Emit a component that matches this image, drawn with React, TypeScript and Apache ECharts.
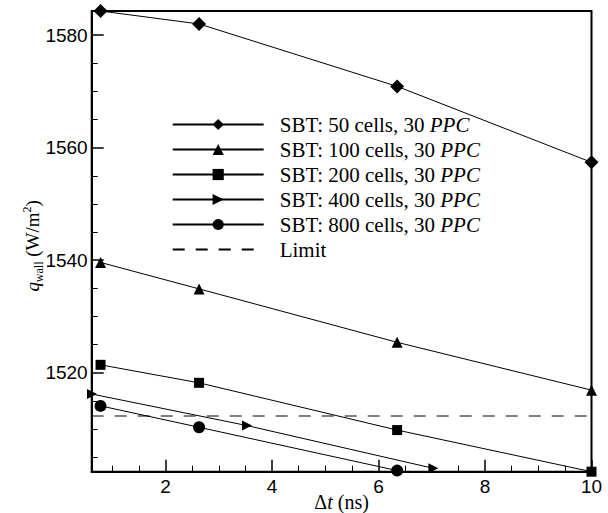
import React, { useEffect, useRef } from "react";
import * as echarts from "echarts";

// ---- data ----
const xMain = [0.78, 2.63, 6.35, 10];
const sbt50 = [1584.3, 1582.0, 1570.9, 1557.4];
const sbt100 = [1539.6, 1534.9, 1525.4, 1516.9];
const sbt200 = [1521.4, 1518.2, 1509.8, 1502.4];
const x400 = [0.62, 3.53, 7.03];
const sbt400 = [1516.2, 1510.6, 1503.0];
const x800 = [0.78, 2.63, 6.35];
const sbt800 = [1514.1, 1510.3, 1502.6];
const limitValue = 1512.3;

const xRange = [0.614, 10];
const yRange = [1502.4, 1584.3];
const xMajor = [2, 4, 6, 8, 10];
const xMinor = [1, 1.5, 2.5, 3, 3.5, 4.5, 5, 5.5, 6.5, 7, 7.5, 8.5, 9, 9.5];
const yMajor = [1520, 1540, 1560, 1580];
const yMinor = [1505, 1510, 1515, 1525, 1530, 1535, 1545, 1550, 1555, 1565, 1570, 1575];

const names = [
  "SBT: 50 cells, 30 PPC",
  "SBT: 100 cells, 30 PPC",
  "SBT: 200 cells, 30 PPC",
  "SBT: 400 cells, 30 PPC",
  "SBT: 800 cells, 30 PPC",
  "Limit",
];

const pair = (xs: number[], ys: number[]) => xs.map((x, i) => [x, ys[i]]);

export default function App() {
  const ref = useRef<HTMLDivElement>(null);
  useEffect(() => {
    if (!ref.current) return;
    const chart = echarts.init(ref.current, null, { renderer: "svg" });
    const serif = "Liberation Serif";
    const sans = "Liberation Sans";
    const lineStyle = { color: "#000", width: 1 };
    const mkSeries = (name: string, data: number[][], symbol: string, size: number, rotate = 0) => ({
      name,
      type: "line",
      data,
      symbol,
      symbolSize: size,
      symbolRotate: rotate,
      showSymbol: true,
      itemStyle: { color: "#000" },
      lineStyle,
      z: 3,
    });
    const baseAxis = (min: number, max: number) => ({
      type: "value",
      min,
      max,
      splitLine: { show: false },
    });
    chart.setOption({
      animation: false,
      backgroundColor: "#fff",
      grid: {
        left: 91.7,
        top: 11,
        right: 16.5,
        bottom: 41.3,
        show: true,
        borderColor: "#000",
        borderWidth: 2,
        containLabel: false,
        outerBoundsMode: "none",
      },
      legend: {
        orient: "vertical",
        left: 171.7,
        top: 114,
        padding: 0,
        itemWidth: 91,
        itemHeight: 14,
        itemGap: 4,
        data: names.map((n) =>
          n === "Limit" ? { name: n, itemStyle: { color: "rgba(0,0,0,0)", opacity: 0 } } : { name: n }
        ),
        formatter: (n: string) => n.replace("PPC", "{i|PPC}"),
        textStyle: {
          fontFamily: serif,
          fontSize: 21,
          lineHeight: 21,
          color: "#000",
          padding: [0, 0, 0, 11],
          rich: {
            i: { fontFamily: serif, fontSize: 21, lineHeight: 21, fontStyle: "italic", color: "#000" },
          },
        },
      },
      xAxis: [
        {
          ...baseAxis(xRange[0], xRange[1]),
          position: "bottom",
          axisLine: { show: true, onZero: false, lineStyle: { color: "#000", width: 2 } },
          axisTick: { show: true, inside: true, length: 12, customValues: xMajor, lineStyle: { color: "#000", width: 1.5 } },
          axisLabel: {
            show: true,
            customValues: xMajor,
            margin: 5,
            fontFamily: sans,
            fontSize: 19,
            color: "#000",
            formatter: (v: number) => String(v),
          },
          name: "{n|Δ}{i|t}{n| (ns)}",
          nameLocation: "middle",
          nameGap: 20,
          nameMoveOverlap: false,
          nameTextStyle: {
            rich: {
              n: { fontFamily: serif, fontSize: 20, lineHeight: 20, color: "#000" },
              i: { fontFamily: serif, fontSize: 20, lineHeight: 20, fontStyle: "italic", color: "#000" },
            },
          },
        },
        {
          ...baseAxis(xRange[0], xRange[1]),
          position: "bottom",
          axisLine: { show: false, onZero: false },
          axisTick: { show: true, inside: true, length: 6, customValues: xMinor, lineStyle: { color: "#000", width: 1 } },
          axisLabel: { show: false },
        },
      ],
      yAxis: [
        {
          ...baseAxis(yRange[0], yRange[1]),
          position: "left",
          axisLine: { show: true, onZero: false, lineStyle: { color: "#000", width: 2 } },
          axisTick: { show: true, inside: true, length: 12, customValues: yMajor, lineStyle: { color: "#000", width: 1.5 } },
          axisLabel: {
            show: true,
            customValues: yMajor,
            margin: 4,
            fontFamily: sans,
            fontSize: 19,
            color: "#000",
            formatter: (v: number) => String(v),
          },
          name: "{i|q}{sub|wall}{n| (W/m}{sup|2}{n|)}{g| }",
          nameLocation: "middle",
          nameRotate: 90,
          nameGap: 47,
          nameMoveOverlap: false,
          nameTextStyle: {
            rich: {
              n: { fontFamily: serif, fontSize: 19, lineHeight: 24, color: "#000" },
              i: { fontFamily: serif, fontSize: 19, lineHeight: 24, fontStyle: "italic", color: "#000" },
              sub: { fontFamily: serif, fontSize: 12, lineHeight: 12, verticalAlign: "bottom", color: "#000" },
              sup: { fontFamily: serif, fontSize: 12, lineHeight: 12, verticalAlign: "top", color: "#000" },
              g: { width: 9, fontSize: 12 },
            },
          },
        },
        {
          ...baseAxis(yRange[0], yRange[1]),
          position: "left",
          axisLine: { show: false, onZero: false },
          axisTick: { show: true, inside: true, length: 6, customValues: yMinor, lineStyle: { color: "#000", width: 1 } },
          axisLabel: { show: false },
        },
      ],
      series: [
        mkSeries(names[0], pair(xMain, sbt50), "diamond", 14),
        mkSeries(names[1], pair(xMain, sbt100), "triangle", 11),
        mkSeries(names[2], pair(xMain, sbt200), "rect", 10),
        mkSeries(names[3], pair(x400, sbt400), "triangle", 10, -90),
        mkSeries(names[4], pair(x800, sbt800), "circle", 12),
        {
          name: names[5],
          type: "line",
          data: [
            [xRange[0], limitValue],
            [xRange[1], limitValue],
          ],
          symbol: "none",
          itemStyle: { color: "#000" },
          lineStyle: { color: "#000", width: 1, type: [12, 11] },
          z: 2,
        },
      ],
    });
    return () => chart.dispose();
  }, []);
  return <div ref={ref} style={{ width: 608, height: 513, position: "absolute", left: 0, top: 0 }} />;
}
